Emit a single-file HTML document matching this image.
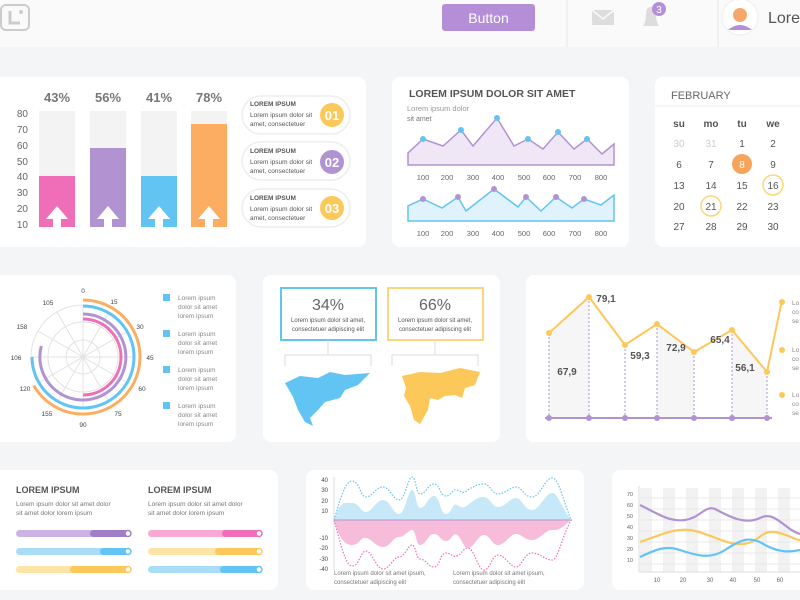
<!DOCTYPE html>
<html><head><meta charset="utf-8"><style>
body{margin:0;background:#f4f5f7;}
svg{display:block;font-family:"Liberation Sans",sans-serif;}
</style></head><body>
<svg width="800" height="600" viewBox="0 0 800 600" xmlns="http://www.w3.org/2000/svg">
<rect width="800" height="600" fill="#f4f5f7"/>
<!-- header -->
<rect x="0" y="0" width="800" height="47" fill="#fafafb"/>
<rect x="1" y="5" width="28" height="25" rx="5" fill="none" stroke="#ccc" stroke-width="2"/>
<path d="M10 11 V23 H20" stroke="#ccc" stroke-width="3" fill="none"/><circle cx="21" cy="12" r="2" fill="#ccc"/>
<rect x="442" y="4" width="93" height="27" rx="3" fill="#b58ed8"/>
<text x="488.5" y="23" font-size="14" fill="#fff" text-anchor="middle">Button</text>
<line x1="567" y1="0" x2="567" y2="47" stroke="#e6e6ea"/><line x1="718" y1="0" x2="718" y2="47" stroke="#e6e6ea"/>
<rect x="592" y="10" width="22" height="15" fill="#ddd"/><path d="M592 10 L603 19 L614 10" stroke="#fafafb" stroke-width="1.5" fill="none"/>
<path d="M643 26 Q646 22 646 14 Q646 7 651 7 Q656 7 656 14 Q656 22 659 26 Z" fill="#ddd"/>
<circle cx="659" cy="9" r="7" fill="#b58ed8"/><text x="659" y="13" font-size="10" fill="#fff" text-anchor="middle">3</text>
<circle cx="740" cy="17" r="18" fill="#fff" stroke="#eee"/>
<circle cx="740" cy="15" r="7" fill="#f5a86b"/><path d="M728 30 Q740 20 752 30 Z" fill="#b58ed8"/>
<text x="768" y="23" font-size="16" fill="#555">Lore</text>

<!-- card1 -->
<rect x="-10" y="77" width="376" height="170" rx="8" fill="#fff"/>
<g font-size="10" fill="#666" text-anchor="end">
<text x="28" y="117">80</text><text x="28" y="133">70</text><text x="28" y="149">60</text><text x="28" y="165">50</text><text x="28" y="180">40</text><text x="28" y="196">30</text><text x="28" y="212">20</text><text x="28" y="228">10</text></g>
<g fill="#f3f3f3"><rect x="39" y="111" width="36" height="116"/><rect x="90" y="111" width="36" height="116"/><rect x="141" y="111" width="36" height="116"/><rect x="191" y="111" width="36" height="116"/></g>
<rect x="39" y="176" width="36" height="51" fill="#f06eb8"/><rect x="90" y="148" width="36" height="79" fill="#b293d2"/><rect x="141" y="176" width="36" height="51" fill="#62c4f3"/><rect x="191" y="124" width="36" height="103" fill="#fdad62"/>
<g fill="#fff"><path d="M46 219 L57 206 L68 219 L61 219 L61 227 L53 227 L53 219Z"/><path d="M97 219 L108 206 L119 219 L112 219 L112 227 L104 227 L104 219Z"/><path d="M148 219 L159 206 L170 219 L163 219 L163 227 L155 227 L155 219Z"/><path d="M198 219 L209 206 L220 219 L213 219 L213 227 L205 227 L205 219Z"/></g>
<g font-size="13" font-weight="bold" fill="#777" text-anchor="middle"><text x="57" y="102">43%</text><text x="108" y="102">56%</text><text x="159" y="102">41%</text><text x="209" y="102">78%</text></g>
<g>
<rect x="242" y="96" width="108" height="38" rx="19" fill="#fff" stroke="#eee" stroke-width="1.5"/>
<rect x="242" y="142" width="108" height="38" rx="19" fill="#fff" stroke="#eee" stroke-width="1.5"/>
<rect x="242" y="189" width="108" height="38" rx="19" fill="#fff" stroke="#eee" stroke-width="1.5"/>
<circle cx="332" cy="115" r="12" fill="#fdc85a"/><circle cx="332" cy="162" r="12" fill="#b293d2"/><circle cx="332" cy="208" r="12" fill="#fdc85a"/>
<g font-size="13" font-weight="bold" fill="#fff" text-anchor="middle"><text x="332" y="120">01</text><text x="332" y="167">02</text><text x="332" y="213">03</text></g>
<g font-size="6.5" fill="#555"><text x="250" y="106" font-weight="bold">LOREM IPSUM</text><text x="250" y="117">Lorem ipsum dolor sit</text><text x="250" y="126">amet, consectetuer</text>
<text x="250" y="153" font-weight="bold">LOREM IPSUM</text><text x="250" y="164">Lorem ipsum dolor sit</text><text x="250" y="173">amet, consectetuer</text>
<text x="250" y="200" font-weight="bold">LOREM IPSUM</text><text x="250" y="211">Lorem ipsum dolor sit</text><text x="250" y="220">amet, consectetuer</text></g></g>

<!-- card2 -->
<rect x="392" y="77" width="237" height="170" rx="8" fill="#fff"/>
<text x="409" y="97" font-size="10.5" font-weight="bold" fill="#555">LOREM IPSUM DOLOR SIT AMET</text>
<text x="407" y="111" font-size="7.5" fill="#999">Lorem ipsum dolor</text><text x="407" y="121" font-size="7" fill="#777">sit amet</text>
<path d="M408 165 L408 153 L423 139 L443 146 L461 130 L473 146 L497 118 L514 146 L528 139 L543 149 L558 132 L574 149 L587 139 L602 154 L614 144 L614 165Z" fill="#efe6f6" stroke="#b293d2" stroke-width="1.5"/>
<g fill="#62c4f3"><circle cx="423" cy="139" r="3"/><circle cx="461" cy="130" r="3"/><circle cx="497" cy="118" r="3"/><circle cx="528" cy="139" r="3"/><circle cx="558" cy="132" r="3"/><circle cx="587" cy="139" r="3"/></g>
<path d="M408 221 L408 206 L423 199 L442 208 L458 197 L466 211 L494 189 L518 207 L526 197 L541 211 L556 197 L572 208 L584 199 L601 205 L614 195 L614 221Z" fill="#e0f3fc" stroke="#62c4f3" stroke-width="1.5"/>
<g fill="#b293d2"><circle cx="423" cy="199" r="3"/><circle cx="458" cy="197" r="3"/><circle cx="494" cy="189" r="3"/><circle cx="526" cy="197" r="3"/><circle cx="556" cy="197" r="3"/><circle cx="584" cy="199" r="3"/></g>
<g font-size="7.5" fill="#666" text-anchor="middle"><text x="423" y="180">100</text><text x="447" y="180">200</text><text x="473" y="180">300</text><text x="498" y="180">400</text><text x="524" y="180">500</text><text x="549" y="180">600</text><text x="575" y="180">700</text><text x="601" y="180">800</text>
<text x="423" y="236">100</text><text x="447" y="236">200</text><text x="473" y="236">300</text><text x="498" y="236">400</text><text x="524" y="236">500</text><text x="549" y="236">600</text><text x="575" y="236">700</text><text x="601" y="236">800</text></g>

<!-- card3 calendar -->
<rect x="655" y="77" width="160" height="170" rx="8" fill="#fff"/>
<text x="671" y="99" font-size="11" fill="#666">FEBRUARY</text>
<line x1="655" y1="106" x2="800" y2="106" stroke="#eee"/>
<circle cx="742" cy="164" r="10" fill="#f7a35c"/>
<circle cx="773" cy="185" r="10" fill="none" stroke="#fdd57a" stroke-width="1.5"/><circle cx="711" cy="206" r="10" fill="none" stroke="#fdd57a" stroke-width="1.5"/>
<g font-size="10" fill="#555" text-anchor="middle">
<text x="679" y="127" font-weight="bold">su</text><text x="711" y="127" font-weight="bold">mo</text><text x="742" y="127" font-weight="bold">tu</text><text x="773" y="127" font-weight="bold">we</text>
<text x="679" y="147" fill="#ccc">30</text><text x="711" y="147" fill="#ccc">31</text><text x="742" y="147">1</text><text x="773" y="147">2</text>
<text x="679" y="168">6</text><text x="711" y="168">7</text><text x="742" y="168" fill="#fff">8</text><text x="773" y="168">9</text>
<text x="679" y="189">13</text><text x="711" y="189">14</text><text x="742" y="189">15</text><text x="773" y="189">16</text>
<text x="679" y="210">20</text><text x="711" y="210">21</text><text x="742" y="210">22</text><text x="773" y="210">23</text>
<text x="679" y="230">27</text><text x="711" y="230">28</text><text x="742" y="230">29</text><text x="773" y="230">30</text></g>

<!-- card4 polar -->
<rect x="-10" y="275" width="246" height="167" rx="8" fill="#fff"/>
<g stroke="#e3e3e3" fill="none"><circle cx="83" cy="357" r="52"/><circle cx="83" cy="357" r="35"/><circle cx="83" cy="357" r="17"/>
<line x1="83" y1="305" x2="83" y2="409"/><line x1="31" y1="357" x2="135" y2="357"/><line x1="57" y1="312" x2="109" y2="402"/><line x1="109" y1="312" x2="57" y2="402"/><line x1="38" y1="331" x2="128" y2="383"/><line x1="128" y1="331" x2="38" y2="383"/></g>
<g fill="none" stroke-width="3">
<path d="M83 300 A57 57 0 1 1 33.6 385.5" stroke="#fdad62"/>
<path d="M83 306 A51 51 0 1 1 32 357" stroke="#62c4f3"/>
<path d="M83 314 A43 43 0 1 1 41.3 346" stroke="#b293d2"/>
<path d="M83 319 A38 38 0 0 1 83 395" stroke="#f06eb8"/></g>
<g font-size="6.5" fill="#444" text-anchor="middle">
<text x="83" y="293">0</text><text x="114" y="304">15</text><text x="140" y="329">30</text><text x="150" y="360">45</text><text x="142" y="391">60</text><text x="118" y="416">75</text><text x="83" y="427">90</text><text x="47" y="416">155</text><text x="25" y="391">120</text><text x="16" y="360">106</text><text x="22" y="329">158</text><text x="48" y="305">105</text></g>
<g fill="#62c4f3"><rect x="163" y="294" width="7" height="7"/><rect x="163" y="330" width="7" height="7"/><rect x="163" y="366" width="7" height="7"/><rect x="163" y="402" width="7" height="7"/></g>
<g font-size="6.5" fill="#888"><text x="178" y="300">Lorem ipsum</text><text x="178" y="309">dolor sit amet</text><text x="178" y="318">lorem ipsum</text>
<text x="178" y="336">Lorem ipsum</text><text x="178" y="345">dolor sit amet</text><text x="178" y="354">lorem ipsum</text>
<text x="178" y="372">Lorem ipsum</text><text x="178" y="381">dolor sit amet</text><text x="178" y="390">lorem ipsum</text>
<text x="178" y="408">Lorem ipsum</text><text x="178" y="417">dolor sit amet</text><text x="178" y="426">lorem ipsum</text></g>

<!-- card5 maps -->
<rect x="263" y="275" width="237" height="167" rx="8" fill="#fff"/>
<rect x="281" y="288" width="95" height="52" fill="none" stroke="#62c4f3" stroke-width="2"/>
<rect x="388" y="288" width="95" height="52" fill="none" stroke="#fdd57a" stroke-width="2"/>
<g text-anchor="middle"><text x="328" y="310" font-size="16" fill="#666">34%</text><text x="435" y="310" font-size="16" fill="#666">66%</text>
<g font-size="6" fill="#555"><text x="328" y="322">Lorem ipsum dolor sit amet,</text><text x="328" y="331">consectetuer adipiscing elit</text><text x="435" y="322">Lorem ipsum dolor sit amet,</text><text x="435" y="331">consectetuer adipiscing elit</text></g></g>
<g stroke="#ddd" fill="none"><path d="M328 340 V355 M285 366 V355 H371 V366"/><path d="M435 340 V355 M392 366 V355 H478 V366"/></g>
<path d="M285 383 L300 376 L318 378 L330 372 L345 375 L370 373 L358 385 L345 390 L340 398 L325 402 L318 410 L310 418 L313 426 L305 422 L298 410 L293 397 Z" fill="#62c4f3"/>
<path d="M402 376 L420 372 L440 373 L460 368 L480 372 L475 385 L465 388 L462 398 L455 395 L445 396 L438 400 L430 398 L428 410 L420 424 L414 420 L410 406 L404 396 L406 388 Z" fill="#fdc85a"/>

<!-- card6 line -->
<rect x="526" y="275" width="290" height="167" rx="8" fill="#fff"/>
<path d="M549 333 L589 297 L589 418 L549 418Z" fill="#f6f6f6"/><path d="M657 324 L694 352 L694 418 L657 418Z" fill="#f6f6f6"/><path d="M732 330 L767 372 L767 418 L732 418Z" fill="#f6f6f6"/>
<g stroke="#b293d2" stroke-dasharray="2 2"><line x1="549" y1="333" x2="549" y2="418"/><line x1="589" y1="297" x2="589" y2="418"/><line x1="625" y1="345" x2="625" y2="418"/><line x1="657" y1="324" x2="657" y2="418"/><line x1="694" y1="352" x2="694" y2="418"/><line x1="732" y1="330" x2="732" y2="418"/><line x1="767" y1="372" x2="767" y2="418"/></g>
<line x1="545" y1="418" x2="772" y2="418" stroke="#b293d2" stroke-width="2"/>
<g fill="#b293d2"><circle cx="549" cy="418" r="3"/><circle cx="589" cy="418" r="3"/><circle cx="625" cy="418" r="3"/><circle cx="657" cy="418" r="3"/><circle cx="694" cy="418" r="3"/><circle cx="732" cy="418" r="3"/><circle cx="767" cy="418" r="3"/></g>
<polyline points="549,333 589,297 625,345 657,324 694,352 732,330 767,372 782,300" fill="none" stroke="#fdc85a" stroke-width="2"/>
<g fill="#fdc85a"><circle cx="549" cy="333" r="3"/><circle cx="589" cy="297" r="3"/><circle cx="625" cy="345" r="3"/><circle cx="657" cy="324" r="3"/><circle cx="694" cy="352" r="3"/><circle cx="732" cy="330" r="3"/><circle cx="767" cy="372" r="3"/><circle cx="782" cy="302" r="3"/><circle cx="782" cy="350" r="3"/><circle cx="782" cy="395" r="3"/></g>
<g font-size="10" font-weight="bold" fill="#555" text-anchor="middle"><text x="567" y="375">67,9</text><text x="606" y="302">79,1</text><text x="640" y="359">59,3</text><text x="676" y="351">72,9</text><text x="720" y="343">65,4</text><text x="745" y="371">56,1</text></g>
<g font-size="6.5" fill="#888"><text x="792" y="305">Lo</text><text x="792" y="314">co</text><text x="792" y="323">se</text><text x="792" y="352">Lo</text><text x="792" y="361">co</text><text x="792" y="370">se</text><text x="792" y="397">Lo</text><text x="792" y="406">co</text><text x="792" y="415">se</text></g>

<!-- card7 progress -->
<rect x="-10" y="470" width="288" height="120" rx="8" fill="#fff"/>
<g font-size="9" font-weight="bold" fill="#555"><text x="16" y="493">LOREM IPSUM</text><text x="148" y="493">LOREM IPSUM</text></g>
<g font-size="6.5" fill="#777"><text x="16" y="506">Lorem ipsum dolor sit amet dolor</text><text x="16" y="515">sit amet dolor lorem ipsum</text><text x="148" y="506">Lorem ipsum dolor sit amet dolor</text><text x="148" y="515">sit amet dolor lorem ipsum</text></g>
<g>
<rect x="16" y="530" width="115" height="7" rx="3.5" fill="#cbb4e4"/><rect x="90" y="530" width="41" height="7" rx="3.5" fill="#a07ec8"/>
<rect x="16" y="548" width="115" height="7" rx="3.5" fill="#a9dcf7"/><rect x="100" y="548" width="31" height="7" rx="3.5" fill="#62c4f3"/>
<rect x="16" y="566" width="115" height="7" rx="3.5" fill="#fde3a6"/><rect x="70" y="566" width="61" height="7" rx="3.5" fill="#fdc85a"/>
<rect x="148" y="530" width="114" height="7" rx="3.5" fill="#f8a9d4"/><rect x="222" y="530" width="40" height="7" rx="3.5" fill="#f06eb8"/>
<rect x="148" y="548" width="114" height="7" rx="3.5" fill="#fde3a6"/><rect x="215" y="548" width="47" height="7" rx="3.5" fill="#fdc85a"/>
<rect x="148" y="566" width="114" height="7" rx="3.5" fill="#a9dcf7"/><rect x="220" y="566" width="42" height="7" rx="3.5" fill="#62c4f3"/>
<g fill="#fff" stroke-width="1.5"><circle cx="128" cy="533.5" r="3" stroke="#a07ec8"/><circle cx="128" cy="551.5" r="3" stroke="#62c4f3"/><circle cx="128" cy="569.5" r="3" stroke="#fdc85a"/><circle cx="259" cy="533.5" r="3" stroke="#f06eb8"/><circle cx="259" cy="551.5" r="3" stroke="#fdc85a"/><circle cx="259" cy="569.5" r="3" stroke="#62c4f3"/></g></g>

<!-- card8 wave -->
<rect x="306" y="470" width="278" height="120" rx="8" fill="#fff"/>
<line x1="334" y1="477" x2="334" y2="570" stroke="#ddd"/>
<g font-size="6" fill="#444" text-anchor="end"><text x="328" y="482">40</text><text x="328" y="492">30</text><text x="328" y="503">20</text><text x="328" y="513">10</text><text x="328" y="540">-10</text><text x="328" y="550">-20</text><text x="328" y="561">-30</text><text x="328" y="571">-40</text></g>
<path d="M334 520 C340 500 345 503 352 503 C360 503 360 512 366 512 C372 512 376 500 383 500 C390 500 393 514 399 514 C405 514 408 490 412 490 C416 490 416 508 420 508 C426 508 428 496 434 496 C440 496 440 514 446 514 C452 514 452 502 457 505 C462 508 463 508 468 505 C474 500 478 497 484 497 C490 497 492 507 498 507 C505 507 510 498 516 498 C522 498 524 510 532 510 C540 510 545 493 552 493 C558 493 560 505 571 520 Z" fill="#c7e8f8"/>
<path d="M334 520 C340 500 345 481 352 481 C360 481 360 497 366 497 C372 497 376 487 383 487 C390 487 393 500 399 500 C405 500 408 477 412 477 C416 477 416 494 420 494 C426 494 428 484 434 484 C440 484 440 496 446 496 C452 496 452 488 457 490 C462 492 463 494 468 490 C474 486 478 484 484 484 C490 484 492 494 498 494 C505 494 510 487 516 487 C522 487 524 497 532 497 C540 497 545 478 552 478 C558 478 560 490 571 520" fill="none" stroke="#62c4f3" stroke-width="1.2" stroke-dasharray="1.5 1.5"/>
<path d="M334 520 C340 540 345 545 352 545 C360 545 360 537 366 538 C372 539 376 547 383 547 C390 547 393 537 399 537 C405 537 408 530 412 530 C416 530 416 545 420 545 C426 545 428 534 434 534 C440 534 440 541 446 541 C452 541 452 532 457 535 C462 538 463 548 468 548 C474 548 478 535 484 535 C490 535 492 545 498 545 C505 545 510 534 516 534 C522 534 524 540 532 540 C540 540 545 530 552 530 C558 530 560 530 571 520 Z" fill="#f8bcdb"/>
<path d="M334 520 C340 540 345 566 352 566 C360 566 360 551 366 551 C372 551 376 569 383 569 C390 569 393 557 399 557 C405 557 408 545 412 545 C416 545 416 559 420 559 C426 559 428 567 434 567 C440 567 440 553 446 553 C452 553 452 558 457 556 C462 554 463 548 468 548 C474 548 478 570 484 570 C490 570 492 555 498 555 C505 555 510 567 516 567 C522 567 524 553 532 553 C540 553 545 560 552 560 C558 560 560 542 571 520" fill="none" stroke="#f06eb8" stroke-width="1.2" stroke-dasharray="1.5 1.5"/>
<line x1="334" y1="520" x2="572" y2="520" stroke="#b293d2" stroke-width="1"/>
<g font-size="6" fill="#777"><text x="334" y="575">Lorem ipsum dolor sit amet ipsum,</text><text x="334" y="584">consectetuer adipiscing elit</text><text x="453" y="575">Lorem ipsum dolor sit amet ipsum,</text><text x="453" y="584">consectetuer adipiscing elit</text></g>

<!-- card9 -->
<rect x="612" y="470" width="210" height="120" rx="8" fill="#fff"/>
<g fill="#f2f2f2"><rect x="640" y="488" width="12" height="84"/><rect x="663" y="488" width="12" height="84"/><rect x="686" y="488" width="12" height="84"/><rect x="709" y="488" width="12" height="84"/><rect x="732" y="488" width="12" height="84"/><rect x="755" y="488" width="12" height="84"/><rect x="778" y="488" width="12" height="84"/></g>
<g stroke="#e8e8e8"><line x1="640" y1="498" x2="800" y2="498"/><line x1="640" y1="509" x2="800" y2="509"/><line x1="640" y1="520" x2="800" y2="520"/><line x1="640" y1="531" x2="800" y2="531"/><line x1="640" y1="542" x2="800" y2="542"/><line x1="640" y1="553" x2="800" y2="553"/><line x1="640" y1="564" x2="800" y2="564"/></g>
<line x1="639" y1="486" x2="639" y2="572" stroke="#ddd"/><line x1="639" y1="572" x2="800" y2="572" stroke="#ddd"/>
<g font-size="5.5" fill="#666" text-anchor="end"><text x="633" y="496">70</text><text x="633" y="507">60</text><text x="633" y="518">50</text><text x="633" y="529">40</text><text x="633" y="540">30</text><text x="633" y="551">20</text><text x="633" y="562">10</text></g>
<g font-size="6" fill="#666" text-anchor="middle"><text x="657" y="582">10</text><text x="683" y="582">20</text><text x="710" y="582">30</text><text x="733" y="582">40</text><text x="757" y="582">50</text><text x="780" y="582">60</text></g>
<g fill="none" stroke-width="2.2">
<path d="M640 505 C660 515 670 522 685 520 C700 518 705 505 715 509 C730 517 745 525 760 518 C775 510 785 530 800 534" stroke="#b293d2"/>
<path d="M640 542 C660 535 675 528 690 530 C710 533 725 545 742 544 C760 543 760 530 775 532 C790 535 795 540 800 540" stroke="#fdc85a"/>
<path d="M640 557 C655 550 665 545 680 550 C695 555 710 560 725 550 C740 540 750 535 765 545 C780 553 790 552 800 550" stroke="#62c4f3"/></g>
</svg>
</body></html>
